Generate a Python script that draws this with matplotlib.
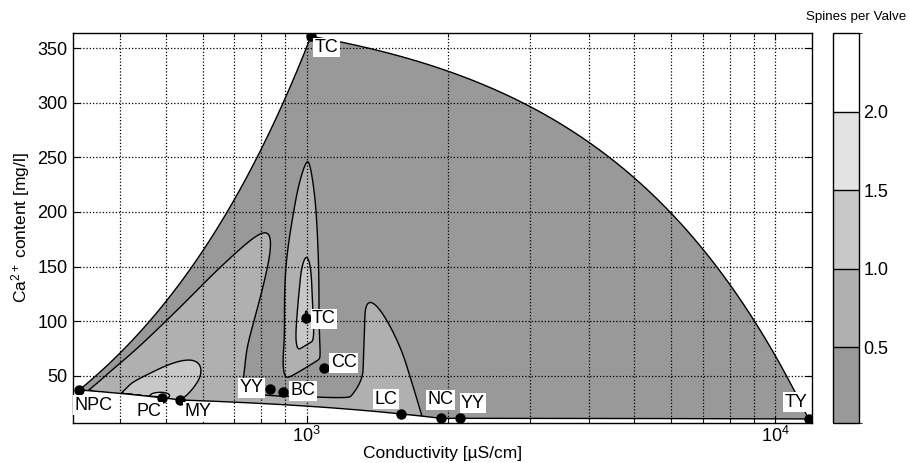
import numpy as np
import matplotlib
matplotlib.use('Agg')
import matplotlib.pyplot as plt
from matplotlib.colors import ListedColormap, BoundaryNorm
from matplotlib.cm import ScalarMappable
from matplotlib.patches import Polygon
from matplotlib.ticker import LogLocator, FixedLocator, NullFormatter

plt.rcParams['font.family'] = ['Liberation Sans', 'DejaVu Sans']
plt.rcParams['mathtext.fontset'] = 'custom'
plt.rcParams['mathtext.rm'] = 'Liberation Sans'
plt.rcParams['mathtext.it'] = 'Liberation Sans'

# ---- data ----
site_labels = ['NPC', 'PC', 'MY', 'YY', 'BC', 'TC', 'TC', 'CC', 'LC', 'NC', 'YY', 'TY']
conductivity = [327, 491, 537, 833, 892, 998, 1021, 1086, 1589, 1934, 2126, 11780]
calcium = [36.9, 29.8, 27.7, 37.5, 35.3, 102.7, 361.0, 57.3, 14.9, 10.9, 11.5, 10.3]
spines = [0.38, 1.75, 1.0, 0.22, 0.25, 1.6, 0.1, 0.25, 0.8, 0.2, 0.2, 0.02]
levels = [0.5, 1.0, 1.5, 2.0]
cbar_range = [0.016, 2.5]
level_colors = ['#999999', '#b0b0b0', '#c8c8c8', '#e3e3e3', '#ffffff']
y_ticks = [50, 100, 150, 200, 250, 300, 350]

# label offsets in points
label_off = [(10, -11), (-9.5, -10), (12.6, -8.4), (-13, 1), (13.8, 0.7), (12.7, -0.5),
             (11, -8.1), (14.4, 3.6), (-10.8, 10.6), (-0.5, 13.2), (9.2, 10.4), (-9.2, 12)]

x = np.array(conductivity, float)
y = np.array(calcium, float)
z = np.array(spines, float)
P = np.column_stack([x, y])
n = len(x)

# ---- natural-neighbour (Sibson) interpolation ----
def clip(poly, keep):
    out = []
    m = len(poly)
    for k in range(m):
        a, b = poly[k], poly[(k+1) % m]
        sa, sb = keep(a), keep(b)
        if sa <= 0:
            out.append(a)
        if (sa <= 0) != (sb <= 0):
            t = sa/(sa - sb)
            out.append(a + t*(b - a))
    return np.array(out)

B = 1e7
cells = []
for i in range(n):
    poly = np.array([[-B, -B], [B, -B], [B, B], [-B, B]], float)
    for j in range(n):
        if j == i:
            continue
        d = P[j] - P[i]
        c = (P[j] @ P[j] - P[i] @ P[i]) / 2.0
        poly = clip(poly, lambda p, d=d, c=c: p @ d - c)
    cells.append(poly)

def stolen_area(poly, Q, v):
    d = Q - v
    mid = (Q + v)/2.0
    R = poly[None, :, :] - Q[:, None, :]
    s = np.einsum('nkj,nj->nk', poly[None, :, :] - mid[:, None, :], d)
    A = R; Bn = np.roll(R, -1, axis=1)
    sa = s; sb = np.roll(s, -1, axis=1)
    ina = sa > 0; inb = sb > 0
    with np.errstate(divide='ignore', invalid='ignore'):
        t = np.where(ina != inb, sa/(sa - sb), 0.0)
    I = A + t[..., None]*(Bn - A)
    cr = lambda u, w: u[..., 0]*w[..., 1] - u[..., 1]*w[..., 0]
    tot = np.where(ina & inb, cr(A, Bn), 0.0)
    tot += np.where(ina & ~inb, cr(A, I), 0.0)
    tot += np.where(~ina & inb, cr(I, Bn), 0.0)
    ex = (ina & ~inb)[..., None]; en = (~ina & inb)[..., None]
    exit_p = np.sum(np.where(ex, I, 0.0), axis=1)
    entry_p = np.sum(np.where(en, I, 0.0), axis=1)
    area = 0.5*(tot.sum(axis=1) + cr(exit_p, entry_p))
    return np.maximum(area, 0.0)

def sibson(Q):
    W = np.zeros((len(Q), n))
    for i in range(n):
        W[:, i] = stolen_area(cells[i], Q, P[i])
    return (W @ z)/np.maximum(W.sum(axis=1), 1e-300)

xlim = (317, 11980)
ylim = (6.6, 364)
gx = np.logspace(np.log10(xlim[0]), np.log10(xlim[1]), 620)
gy = np.linspace(ylim[0], ylim[1], 440)
GX, GY = np.meshgrid(gx, gy)
Q = np.column_stack([GX.ravel(), GY.ravel()])
Z = np.concatenate([sibson(Q[k:k+40000]) for k in range(0, len(Q), 40000)]).reshape(GX.shape)

# ---- convex hull of the sites ----
order = np.lexsort((y, x))
def half(idx):
    h = []
    for k in idx:
        while len(h) >= 2:
            o, a = P[h[-2]], P[h[-1]]
            if (a[0]-o[0])*(P[k][1]-o[1]) - (a[1]-o[1])*(P[k][0]-o[0]) <= 0:
                h.pop()
            else:
                break
        h.append(k)
    return h
hull = half(order)[:-1] + half(order[::-1])[:-1]
hull_pts = []
for k in range(len(hull)):
    a, b = P[hull[k]], P[hull[(k+1) % len(hull)]]
    tt = np.linspace(0, 1, 300)[:, None]
    hull_pts.append(a + tt*(b - a))
hull_pts = np.vstack(hull_pts)

fig = plt.figure(figsize=(9.10, 4.63), dpi=100)
ax = fig.add_axes([73/910, 1-423/463, (812-73)/910, (423-33)/463])
cax = fig.add_axes([833/910, 1-423/463, 26/910, (423-33)/463])

clip_patch = Polygon(hull_pts, closed=True, transform=ax.transData, fc='none', ec='none')
ax.add_patch(clip_patch)
cf = ax.contourf(GX, GY, Z, levels=[-100] + levels + [100], colors=level_colors)
cf.set_clip_path(clip_patch)
cl = ax.contour(GX, GY, Z, levels=levels, colors='black', linewidths=1.0)
cl.set_clip_path(clip_patch)
ax.plot(np.append(hull_pts[:, 0], hull_pts[0, 0]), np.append(hull_pts[:, 1], hull_pts[0, 1]),
        color='black', linewidth=1.0)

ax.plot(x, y, 'o', color='black', markersize=6.5, zorder=5)
for xi, yi, lab, (dx, dy) in zip(x, y, site_labels, label_off):
    ax.annotate(lab, (xi, yi), xytext=(dx, dy), textcoords='offset points',
                ha='center', va='center', fontsize=13, zorder=6,
                bbox=dict(boxstyle='square,pad=0.08', fc='white', ec='none'))

ax.set_xscale('log')
ax.set_xlim(*xlim)
ax.set_ylim(*ylim)
ax.set_yticks(y_ticks)
ax.xaxis.set_major_locator(FixedLocator([1e3, 1e4]))
ax.xaxis.set_minor_locator(LogLocator(base=10, subs=np.arange(2, 10)))
ax.xaxis.set_minor_formatter(NullFormatter())
gls = (0, (1, 1.6))
ax.grid(True, which='both', axis='x', color='black', linestyle=gls, linewidth=0.9)
ax.grid(True, which='major', axis='y', color='black', linestyle=gls, linewidth=0.9)
ax.set_axisbelow(False)
ax.tick_params(which='both', direction='in', labelsize=13, top=True, right=True, pad=4)
ax.tick_params(axis='x', which='both', pad=2)
ax.tick_params(which='major', length=5)
ax.tick_params(which='minor', length=3)
ax.set_xlabel('Conductivity [µS/cm]', fontsize=12.5, labelpad=0)
ax.set_ylabel('Ca$^{2+}$ content [mg/l]', fontsize=12.5, labelpad=4)
for s in ax.spines.values():
    s.set_linewidth(1.0)

bounds = [cbar_range[0]] + levels + [cbar_range[1]]
sm = ScalarMappable(norm=BoundaryNorm(bounds, len(level_colors)), cmap=ListedColormap(level_colors))
cb = fig.colorbar(sm, cax=cax, ticks=levels, spacing='proportional')
cb.ax.set_yticklabels(['0.5', '1.0', '1.5', '2.0'])
cb.ax.tick_params(labelsize=13, length=0, pad=3)
for lv in levels:
    cax.axhline(lv, color='black', linewidth=1.0)
cb.outline.set_linewidth(1.0)
fig.text(856/910, 1-17/463, 'Spines per Valve', ha='center', va='center', fontsize=9.6)

fig.savefig('out.png', dpi=100)
